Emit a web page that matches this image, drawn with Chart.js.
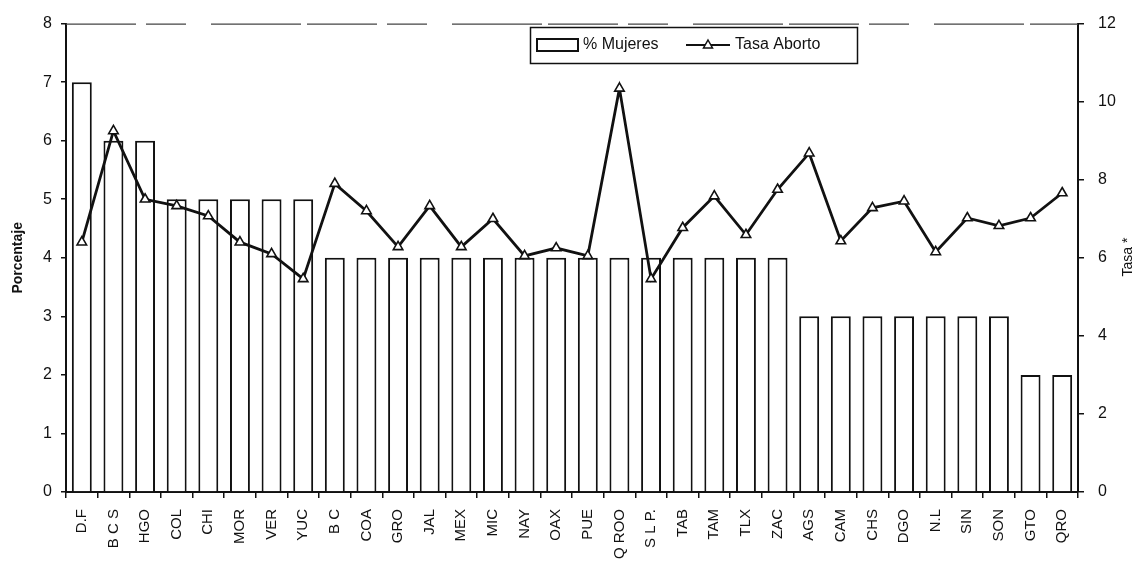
<!DOCTYPE html>
<html>
<head>
<meta charset="utf-8">
<script src="https://cdn.jsdelivr.net/npm/chart.js@4/dist/chart.umd.min.js"></script>
<style>
html,body{margin:0;padding:0;background:#fff;}
#wrap{position:relative;width:1141px;height:571px;}
</style>
</head>
<body>
<div id="wrap"><canvas id="c" width="1141" height="571"></canvas></div>
<script>
const categories = ["D.F","B C S","HGO","COL","CHI","MOR","VER","YUC","B C","COA","GRO","JAL","MEX","MIC","NAY","OAX","PUE","Q ROO","S L P.","TAB","TAM","TLX","ZAC","AGS","CAM","CHS","DGO","N.L","SIN","SON","GTO","QRO"];
const mujeres = [7,6,6,5,5,5,5,5,4,4,4,4,4,4,4,4,4,4,4,4,4,4,4,3,3,3,3,3,3,3,2,2];
const tasaAborto = [6.4,9.25,7.5,7.33,7.07,6.4,6.1,5.46,7.9,7.2,6.28,7.33,6.28,7.0,6.05,6.25,6.05,10.34,5.46,6.77,7.58,6.59,7.75,8.68,6.43,7.28,7.45,6.15,7.02,6.82,7.02,7.66];
const leftTicks = [0,1,2,3,4,5,6,7,8];
const rightTicks = [0,2,4,6,8,10,12];
const leftTitle = "Porcentaje";
const rightTitle = "Tasa *";
const seriesNames = ["% Mujeres","Tasa Aborto"];

const FONT = "'Liberation Sans', Arial, sans-serif";

const overlay = {
  id: 'overlay',
  afterDraw(chart) {
    const ctx = chart.ctx;
    const a = chart.chartArea;
    ctx.save();
    // top border (faint, broken)
    ctx.strokeStyle = '#444';
    ctx.lineWidth = 1.2;
    ctx.setLineDash([70, 10, 40, 25, 90, 6]);
    ctx.beginPath();
    ctx.moveTo(a.left, a.top + 0.5);
    ctx.lineTo(a.right, a.top + 0.5);
    ctx.stroke();
    ctx.setLineDash([]);
    // axis titles
    ctx.fillStyle = '#111';
    ctx.font = "bold 14px " + FONT;
    ctx.textAlign = 'center';
    ctx.textBaseline = 'middle';
    ctx.translate(18, (a.top + a.bottom) / 2);
    ctx.rotate(-Math.PI / 2);
    ctx.fillText(leftTitle, 0, 0);
    ctx.restore();
    ctx.save();
    ctx.fillStyle = '#111';
    ctx.font = "14px " + FONT;
    ctx.textAlign = 'center';
    ctx.textBaseline = 'middle';
    ctx.translate(1128, 257);
    ctx.rotate(-Math.PI / 2);
    ctx.fillText(rightTitle, 0, 0);
    ctx.restore();
    // legend
    ctx.save();
    const lx = 530, ly = 27, lw = 327, lh = 36;
    ctx.fillStyle = '#fff';
    ctx.fillRect(lx, ly, lw, lh);
    ctx.strokeStyle = '#111';
    ctx.lineWidth = 1.5;
    ctx.strokeRect(lx + 0.5, ly + 0.5, lw, lh);
    // bar symbol
    ctx.lineWidth = 2;
    ctx.strokeRect(537, 39, 41, 12);
    ctx.fillStyle = '#111';
    ctx.font = "16px " + FONT;
    ctx.textAlign = 'left';
    ctx.textBaseline = 'middle';
    ctx.fillText(seriesNames[0], 583, 45);
    // line symbol
    ctx.beginPath();
    ctx.moveTo(686, 45);
    ctx.lineTo(730, 45);
    ctx.lineWidth = 2;
    ctx.stroke();
    ctx.beginPath();
    ctx.moveTo(708, 40);
    ctx.lineTo(712.5, 48);
    ctx.lineTo(703.5, 48);
    ctx.closePath();
    ctx.fillStyle = '#fff';
    ctx.fill();
    ctx.lineWidth = 1.5;
    ctx.stroke();
    ctx.fillStyle = '#111';
    ctx.fillText(seriesNames[1], 735, 45);
    ctx.restore();
  }
};

new Chart(document.getElementById('c'), {
  data: {
    labels: categories,
    datasets: [
      {
        type: 'line',
        label: seriesNames[1],
        data: tasaAborto,
        yAxisID: 'y2',
        borderColor: '#111',
        borderWidth: 2.8,
        pointStyle: 'triangle',
        pointRadius: 5.5,
        pointBorderWidth: 1.6,
        pointBackgroundColor: '#fff',
        pointBorderColor: '#111',
        tension: 0,
        order: 0
      },
      {
        type: 'bar',
        label: seriesNames[0],
        data: mujeres,
        yAxisID: 'y',
        backgroundColor: '#fff',
        borderColor: '#111',
        borderWidth: 2,
        categoryPercentage: 1,
        barPercentage: 0.63,
        order: 1
      }
    ]
  },
  options: {
    responsive: false,
    animation: false,
    layout: { padding: { top: 22, left: 0, right: 0, bottom: 0 } },
    plugins: { legend: { display: false }, tooltip: { enabled: false } },
    scales: {
      x: {
        offset: true,
        grid: { display: true, offset: true, drawOnChartArea: false, drawTicks: true, tickLength: 6, color: '#111', lineWidth: 1.5 },
        border: { display: true, color: '#111', width: 2 },
        ticks: { color: '#111', font: { family: FONT, size: 15 }, minRotation: 90, maxRotation: 90, autoSkip: false, padding: 11 },
        afterFit(s) { s.height = 79; }
      },
      y: {
        position: 'left',
        min: 0, max: 8,
        afterBuildTicks(s) { s.ticks = leftTicks.map(v => ({ value: v })); },
        grid: { drawOnChartArea: false, drawTicks: true, tickLength: 5, color: '#111', lineWidth: 1.5 },
        border: { display: true, color: '#111', width: 2 },
        ticks: { color: '#111', font: { family: FONT, size: 16 }, padding: 9 },
        afterFit(s) { s.width = 66; }
      },
      y2: {
        position: 'right',
        min: 0, max: 12,
        afterBuildTicks(s) { s.ticks = rightTicks.map(v => ({ value: v })); },
        grid: { drawOnChartArea: false, drawTicks: true, tickLength: 6, color: '#111', lineWidth: 1.5 },
        border: { display: true, color: '#111', width: 2 },
        ticks: { color: '#111', font: { family: FONT, size: 16 }, padding: 14 },
        afterFit(s) { s.width = 63; }
      }
    }
  },
  plugins: [overlay]
});
</script>
</body>
</html>
